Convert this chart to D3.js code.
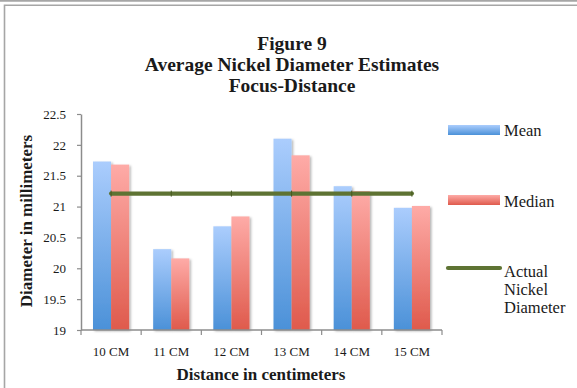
<!DOCTYPE html>
<html>
<head>
<meta charset="utf-8">
<script src="https://cdn.jsdelivr.net/npm/d3@7"></script>
<style>
  body { margin: 0; background: #fff; }
  text { font-family: "Liberation Serif", serif; fill: #1a1a1a; }
  .title { font-weight: bold; font-size: 19.5px; }
  .axis-title { font-weight: bold; font-size: 17px; }
  .tick-label { font-size: 13px; }
  .legend-label { font-size: 16.5px; }
</style>
</head>
<body>
<svg width="577" height="388"></svg>
<script>
// Chart data
var categories = ['10 CM', '11 CM', '12 CM', '13 CM', '14 CM', '15 CM'];
var meanValues = [21.73, 20.31, 20.68, 22.10, 21.33, 20.98];
var medianValues = [21.68, 20.16, 20.84, 21.83, 21.25, 21.01];
var actualValues = [21.21, 21.21, 21.21, 21.21, 21.21, 21.21];
var yTicks = [19, 19.5, 20, 20.5, 21, 21.5, 22, 22.5];
var seriesNames = ['Mean', 'Median'];
var titleLines = ['Figure 9', 'Average Nickel Diameter Estimates', 'Focus-Distance'];

var svg = d3.select('svg');

var plot = { l: 81, r: 442, t: 114, b: 330 };

// Outer frame
svg.append('line')
    .attr('x1', 0).attr('x2', 577).attr('y1', 0.7).attr('y2', 0.7)
    .attr('stroke', '#a6a6a6').attr('stroke-width', 2);
svg.append('path')
    .attr('d', 'M4.5,388 V5.2 H577')
    .attr('fill', 'none')
    .attr('stroke', '#a6a6a6').attr('stroke-width', 1.6);

var defs = svg.append('defs');

function addGradient(id, top, bottom) {
    var g = defs.append('linearGradient')
        .attr('id', id)
        .attr('x1', 0).attr('y1', 0).attr('x2', 0).attr('y2', 1);
    g.append('stop').attr('offset', '0%').attr('stop-color', top);
    g.append('stop').attr('offset', '100%').attr('stop-color', bottom);
}
addGradient('grad-mean', '#abcdfd', '#4b91d8');
addGradient('grad-median', '#feaba7', '#df5a4c');

var shadow = defs.append('filter').attr('id', 'shadow')
    .attr('x', '-20%').attr('y', '-20%').attr('width', '150%').attr('height', '150%');
shadow.append('feDropShadow')
    .attr('dx', 1.5).attr('dy', 1.2).attr('stdDeviation', 1)
    .attr('flood-color', '#000').attr('flood-opacity', 0.3);

// Title
svg.append('text')
    .attr('class', 'title')
    .attr('text-anchor', 'middle')
    .selectAll('tspan')
    .data(titleLines)
    .enter()
    .append('tspan')
    .attr('x', 292)
    .attr('y', (d, i) => 50 + i * 21)
    .text(d => d);

// Scales
var xScale = d3.scaleBand()
    .domain(categories)
    .range([plot.l, plot.r]);

var xInner = d3.scaleBand()
    .domain(seriesNames)
    .range([12, xScale.bandwidth() - 12]);

var yScale = d3.scaleLinear()
    .domain([19, 22.5])
    .range([plot.b, plot.t]);

// Gridlines
svg.append('g')
    .selectAll('line')
    .data(yTicks.filter(d => d > 19))
    .enter()
    .append('line')
    .attr('x1', plot.l).attr('x2', plot.r)
    .attr('y1', d => yScale(d)).attr('y2', d => yScale(d))
    .attr('stroke', '#8c8c8c').attr('stroke-width', 1.5)
    .attr('filter', 'url(#shadow)');

// Y axis
var yAxis = d3.axisLeft(yScale)
    .tickValues(yTicks)
    .tickSize(4)
    .tickSizeOuter(0)
    .tickPadding(11)
    .tickFormat(d3.format(''));

var yAxisG = svg.append('g')
    .attr('transform', 'translate(' + plot.l + ',0)')
    .call(yAxis);
yAxisG.select('.domain').attr('stroke', '#8c8c8c').attr('stroke-width', 1.5);
yAxisG.selectAll('.tick line').attr('stroke', '#8c8c8c').attr('stroke-width', 1.2);
yAxisG.selectAll('.tick text')
    .attr('class', 'tick-label')
    .style('font-family', '"Liberation Serif", serif')
    .style('font-size', '13px')
    .attr('fill', '#1a1a1a');

// Bars
var rows = categories.map((c, i) => ({ cat: c, Mean: meanValues[i], Median: medianValues[i] }));

var groups = svg.append('g')
    .selectAll('g')
    .data(rows)
    .enter()
    .append('g')
    .attr('transform', d => 'translate(' + xScale(d.cat) + ',0)');

groups.selectAll('rect')
    .data(d => seriesNames.map(s => ({ key: s, value: d[s] })))
    .enter()
    .append('rect')
    .attr('x', d => xInner(d.key))
    .attr('width', xInner.bandwidth())
    .attr('y', d => yScale(d.value))
    .attr('height', d => yScale(19) - yScale(d.value))
    .attr('fill', d => d.key === 'Mean' ? 'url(#grad-mean)' : 'url(#grad-median)')
    .attr('filter', 'url(#shadow)');

// X axis
var xAxisG = svg.append('g')
    .attr('transform', 'translate(0,' + plot.b + ')');

xAxisG.append('line')
    .attr('x1', plot.l).attr('x2', plot.r)
    .attr('stroke', '#8c8c8c').attr('stroke-width', 1.5);

var boundaries = categories.map(c => xScale(c)).concat([plot.r]);
xAxisG.selectAll('.xtick')
    .data(boundaries)
    .enter()
    .append('line')
    .attr('class', 'xtick')
    .attr('x1', d => d).attr('x2', d => d)
    .attr('y1', 0).attr('y2', 5)
    .attr('stroke', '#8c8c8c').attr('stroke-width', 1.2);

var xAxis = d3.axisBottom(xScale).tickSize(0).tickPadding(17);
var xLabels = svg.append('g')
    .attr('transform', 'translate(0,' + plot.b + ')')
    .call(xAxis);
xLabels.select('.domain').remove();
xLabels.selectAll('.tick text')
    .style('font-family', '"Liberation Serif", serif')
    .style('font-size', '13px')
    .attr('fill', '#1a1a1a');

// Actual nickel diameter line
var line = d3.line()
    .x((d, i) => xScale(categories[i]) + xScale.bandwidth() / 2)
    .y(d => yScale(d));

svg.append('path')
    .datum(actualValues)
    .attr('d', line)
    .attr('fill', 'none')
    .attr('stroke', '#5e7333')
    .attr('stroke-width', 4.2)
    .attr('stroke-linecap', 'round');

svg.append('g')
    .selectAll('line')
    .data(actualValues)
    .enter()
    .append('line')
    .attr('x1', (d, i) => xScale(categories[i]) + xScale.bandwidth() / 2)
    .attr('x2', (d, i) => xScale(categories[i]) + xScale.bandwidth() / 2)
    .attr('y1', d => yScale(d) - 3)
    .attr('y2', d => yScale(d) + 3)
    .attr('stroke', '#46581f')
    .attr('stroke-width', 1);

// Axis titles
svg.append('text')
    .attr('class', 'axis-title')
    .attr('text-anchor', 'middle')
    .attr('x', 261)
    .attr('y', 380)
    .text('Distance in centimeters');

svg.append('text')
    .attr('class', 'axis-title')
    .attr('text-anchor', 'middle')
    .attr('transform', 'translate(32,221) rotate(-90)')
    .text('Diameter in millimeters');

// Legend
var legend = svg.append('g');

legend.append('rect')
    .attr('x', 448).attr('y', 125).attr('width', 52).attr('height', 10)
    .attr('fill', 'url(#grad-mean)');
legend.append('text')
    .attr('class', 'legend-label')
    .attr('x', 504).attr('y', 136)
    .text(seriesNames[0]);

legend.append('rect')
    .attr('x', 448).attr('y', 195).attr('width', 52).attr('height', 10)
    .attr('fill', 'url(#grad-median)');
legend.append('text')
    .attr('class', 'legend-label')
    .attr('x', 504).attr('y', 207)
    .text(seriesNames[1]);

legend.append('line')
    .attr('x1', 448).attr('x2', 500).attr('y1', 268).attr('y2', 268)
    .attr('stroke', '#5e7333').attr('stroke-width', 4.2)
    .attr('stroke-linecap', 'round');
legend.append('text')
    .attr('class', 'legend-label')
    .selectAll('tspan')
    .data(['Actual', 'Nickel', 'Diameter'])
    .enter()
    .append('tspan')
    .attr('x', 504)
    .attr('y', (d, i) => 277 + i * 18)
    .text(d => d);
</script>
</body>
</html>
